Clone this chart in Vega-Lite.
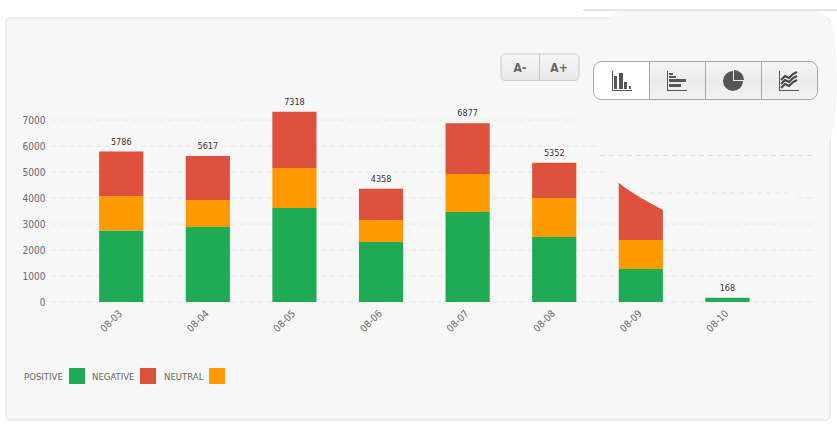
{
"$schema":"https://vega.github.io/schema/vega-lite/v6.json",
"width":760,"height":182,"autosize":"none",
"padding":{"left":52,"top":120,"right":25,"bottom":125},
"background":"#ffffff",
"config":{"view":{"stroke":null},"font":"DejaVu Sans Condensed"},
"datasets":{
"sent":[
{"day":"08-03","kind":"POSITIVE","ord":1,"count":2750},{"day":"08-03","kind":"NEUTRAL","ord":2,"count":1320},{"day":"08-03","kind":"NEGATIVE","ord":3,"count":1716},
{"day":"08-04","kind":"POSITIVE","ord":1,"count":2885},{"day":"08-04","kind":"NEUTRAL","ord":2,"count":1038},{"day":"08-04","kind":"NEGATIVE","ord":3,"count":1694},
{"day":"08-05","kind":"POSITIVE","ord":1,"count":3615},{"day":"08-05","kind":"NEUTRAL","ord":2,"count":1540},{"day":"08-05","kind":"NEGATIVE","ord":3,"count":2163},
{"day":"08-06","kind":"POSITIVE","ord":1,"count":2308},{"day":"08-06","kind":"NEUTRAL","ord":2,"count":846},{"day":"08-06","kind":"NEGATIVE","ord":3,"count":1204},
{"day":"08-07","kind":"POSITIVE","ord":1,"count":3460},{"day":"08-07","kind":"NEUTRAL","ord":2,"count":1463},{"day":"08-07","kind":"NEGATIVE","ord":3,"count":1954},
{"day":"08-08","kind":"POSITIVE","ord":1,"count":2500},{"day":"08-08","kind":"NEUTRAL","ord":2,"count":1500},{"day":"08-08","kind":"NEGATIVE","ord":3,"count":1352},
{"day":"08-09","kind":"POSITIVE","ord":1,"count":1270},{"day":"08-09","kind":"NEUTRAL","ord":2,"count":1115},{"day":"08-09","kind":"NEGATIVE","ord":3,"count":2715},
{"day":"08-10","kind":"POSITIVE","ord":1,"count":168}
],
"grid":[{"v":0},{"v":1000},{"v":2000},{"v":3000},{"v":4000},{"v":5000},{"v":6000},{"v":7000}],
"mask":[
{"x":583,"t":118,"b":121},{"x":585,"t":90,"b":124},{"x":590,"t":60,"b":132},{"x":597,"t":36,"b":146},{"x":608,"t":20,"b":172},{"x":613,"t":14,"b":178},{"x":619,"t":11,"b":183},{"x":630,"t":11,"b":191},{"x":641,"t":11,"b":198},{"x":652,"t":11,"b":204},{"x":663,"t":11,"b":210},{"x":675,"t":11,"b":215},{"x":700,"t":11,"b":217},{"x":760,"t":11,"b":205},{"x":800,"t":11,"b":196},{"x":815,"t":11,"b":165},{"x":830,"t":22,"b":140},{"x":836,"t":50,"b":105},{"x":837,"t":90,"b":92}
],
"icons":[
{"a":612,"b":613,"c":71,"d":91},{"a":612,"b":632,"c":90,"d":91},{"a":614,"b":617,"c":76,"d":89},{"a":619,"b":623,"c":73,"d":89},{"a":624,"b":627,"c":82,"d":89},{"a":629,"b":631,"c":86,"d":89},
{"a":667,"b":668,"c":71,"d":91},{"a":667,"b":687,"c":90,"d":91},{"a":669,"b":673,"c":73,"d":75},{"a":669,"b":676,"c":76,"d":78},{"a":669,"b":686,"c":79,"d":82},{"a":669,"b":681,"c":84,"d":87},
{"a":779,"b":780,"c":71,"d":91},{"a":779,"b":799,"c":90,"d":91}
],
"waves":[
{"s":1,"i":1,"x":781,"y":80},{"s":1,"i":2,"x":785,"y":76},{"s":1,"i":3,"x":789,"y":78},{"s":1,"i":4,"x":793,"y":74},{"s":1,"i":5,"x":797,"y":72},
{"s":2,"i":1,"x":781,"y":84},{"s":2,"i":2,"x":785,"y":80},{"s":2,"i":3,"x":789,"y":82},{"s":2,"i":4,"x":793,"y":78},{"s":2,"i":5,"x":797,"y":76},
{"s":3,"i":1,"x":781,"y":88},{"s":3,"i":2,"x":785,"y":84},{"s":3,"i":3,"x":789,"y":86},{"s":3,"i":4,"x":793,"y":82},{"s":3,"i":5,"x":797,"y":80}
],
"legendRows":[
{"kind":"POSITIVE","x":24,"a":69,"b":85,"y":376.5,"c":368,"d":384},{"kind":"NEGATIVE","x":92,"a":140,"b":156,"y":376.5,"c":368,"d":384},{"kind":"NEUTRAL","x":164,"a":209,"b":225,"y":376.5,"c":368,"d":384}
]
},
"resolve":{"scale":{"x":"independent","y":"independent","color":"independent"},"axis":{"x":"independent","y":"independent"}},
"layer":[
{
"data":{"values":[{"a":6,"b":830,"c":18,"d":420}]},
"mark":{"type":"rect","fill":"#f7f7f7","stroke":"#dcdcdc","strokeWidth":1,"cornerRadius":4},
"encoding":{
"x":{"field":"a","type":"quantitative","scale":{"domain":[52,812],"nice":false,"zero":false},"axis":null},
"x2":{"field":"b"},
"y":{"field":"c","type":"quantitative","scale":{"domain":[302,120],"nice":false,"zero":false},"axis":null},
"y2":{"field":"d"}}
},
{
"layer":[
{"data":{"name":"grid"},
"mark":{"type":"rule","stroke":"#e8e8e8","strokeWidth":1,"strokeDash":[5,4]},
"encoding":{"y":{"field":"v","type":"quantitative","scale":{"domain":[0,7000],"nice":false},
"axis":{"values":[0,1000,2000,3000,4000,5000,6000,7000],"title":null,"grid":false,"domain":false,"ticks":false,"labelPadding":7,"labelFontSize":10,"labelColor":"#666666","labelFont":"DejaVu Sans Condensed","labelOverlap":false,"format":"d","zindex":1}}}},
{"data":{"name":"sent"},
"mark":{"type":"bar"},
"encoding":{
"x":{"field":"day","type":"nominal","scale":{"paddingInner":0.49,"paddingOuter":0.633,"align":0.43},
"axis":{"title":null,"domain":false,"ticks":false,"labelAngle":-45,"labelPadding":6,"labelOffset":-4,"labelFontSize":10,"labelColor":"#666666","labelFont":"DejaVu Sans Condensed","zindex":1}},
"y":{"field":"count","type":"quantitative","aggregate":"sum","stack":"zero",
"axis":{"values":[0,1000,2000,3000,4000,5000,6000,7000],"title":null,"grid":false,"domain":false,"ticks":false,"labelPadding":7,"labelFontSize":10,"labelColor":"#666666","labelFont":"DejaVu Sans Condensed","labelOverlap":false,"format":"d","zindex":1}},
"order":{"field":"ord","type":"ordinal"},
"color":{"field":"kind","type":"nominal","legend":null,"scale":{"domain":["POSITIVE","NEGATIVE","NEUTRAL"],"range":["#1faa54","#dd523c","#ff9a00"]}}}},
{"data":{"name":"sent"},
"transform":[{"aggregate":[{"op":"sum","field":"count","as":"total"}],"groupby":["day"]}],
"mark":{"type":"text","dy":-10,"fontSize":9,"fill":"#333333","font":"DejaVu Sans Condensed"},
"encoding":{
"x":{"field":"day","type":"nominal",
"axis":{"title":null,"domain":false,"ticks":false,"labelAngle":-45,"labelPadding":6,"labelOffset":-4,"labelFontSize":10,"labelColor":"#666666","labelFont":"DejaVu Sans Condensed","zindex":1}},
"y":{"field":"total","type":"quantitative",
"axis":{"values":[0,1000,2000,3000,4000,5000,6000,7000],"title":null,"grid":false,"domain":false,"ticks":false,"labelPadding":7,"labelFontSize":10,"labelColor":"#666666","labelFont":"DejaVu Sans Condensed","labelOverlap":false,"format":"d","zindex":1}},
"text":{"field":"total","type":"quantitative","format":"d"}}}
]
},
{
"encoding":{
"x":{"field":"x","type":"quantitative","scale":{"domain":[52,812],"nice":false,"zero":false},"axis":null},
"y":{"field":"y","type":"quantitative","scale":{"domain":[302,120],"nice":false,"zero":false},"axis":null}},
"layer":[
{"data":{"name":"mask"},"mark":{"type":"area","fill":"#f7f7f7","interpolate":"monotone"},
"encoding":{"x":{"field":"x","type":"quantitative"},"y":{"field":"t","type":"quantitative","stack":null},"y2":{"field":"b"}}},
{"data":{"values":[{"x":583,"x2":837,"y":10}]},"mark":{"type":"rule","stroke":"#cccccc"},"encoding":{"x2":{"field":"x2"}}},
{"data":{"values":[{"x":600,"x2":815,"y":155.5}]},"mark":{"type":"rule","stroke":"#dcdcdc","strokeDash":[5,4]},"encoding":{"x2":{"field":"x2"}}},
{"data":{"values":[{"x":640,"x2":788,"y":193}]},"mark":{"type":"rule","stroke":"#e6e6e6","strokeDash":[5,4]},"encoding":{"x2":{"field":"x2"}}},
{"data":{"values":[{"x":501,"x2":579,"y":54,"y2":80.5}]},"mark":{"type":"rect","cornerRadius":4,"stroke":"#cccccc","fill":{"x1":0,"y1":0,"x2":0,"y2":1,"gradient":"linear","stops":[{"offset":0,"color":"#f6f6f6"},{"offset":1,"color":"#e9e9e9"}]}},"encoding":{"x2":{"field":"x2"},"y2":{"field":"y2"}}},
{"data":{"values":[{"x":539.5,"y":54,"y2":80.5}]},"mark":{"type":"rule","stroke":"#c4c4c4"},"encoding":{"y2":{"field":"y2"}}},
{"data":{"values":[{"x":520,"y":68,"t":"A-"},{"x":559,"y":68,"t":"A+"}]},"mark":{"type":"text","fontSize":12,"fontWeight":"bold","fill":"#666666","font":"DejaVu Sans Condensed"},"encoding":{"text":{"field":"t"}}},
{"data":{"values":[{"x":593.5,"x2":817.5,"y":61.5,"y2":99.5}]},"mark":{"type":"rect","cornerRadius":8,"fill":{"x1":0,"y1":0,"x2":0,"y2":1,"gradient":"linear","stops":[{"offset":0,"color":"#f5f5f5"},{"offset":0.5,"color":"#ebebeb"},{"offset":1,"color":"#f2f2f2"}]}},"encoding":{"x2":{"field":"x2"},"y2":{"field":"y2"}}},
{"data":{"values":[{"x":593.5,"x2":649,"y":61.5,"y2":99.5}]},"mark":{"type":"rect","fill":"#ffffff","cornerRadiusTopLeft":8,"cornerRadiusBottomLeft":8},"encoding":{"x2":{"field":"x2"},"y2":{"field":"y2"}}},
{"data":{"values":[{"x":593.5,"x2":817.5,"y":61.5,"y2":99.5}]},"mark":{"type":"rect","cornerRadius":8,"fillOpacity":0,"stroke":"#a8a8a8"},"encoding":{"x2":{"field":"x2"},"y2":{"field":"y2"}}},
{"data":{"values":[{"x":649.5,"y":61.5,"y2":99.5},{"x":705.5,"y":61.5,"y2":99.5},{"x":761.5,"y":61.5,"y2":99.5}]},"mark":{"type":"rule","stroke":"#a8a8a8"},"encoding":{"y2":{"field":"y2"}}},
{"data":{"name":"icons"},"mark":{"type":"rect","fill":"#555555"},"encoding":{"x":{"field":"a","type":"quantitative"},"x2":{"field":"b"},"y":{"field":"c","type":"quantitative"},"y2":{"field":"d"}}},
{"data":{"values":[{"x":733,"y":81}]},"mark":{"type":"arc","fill":"#555555","outerRadius":10,"theta":1.57,"theta2":6.283}},
{"data":{"values":[{"x":734,"y":80}]},"mark":{"type":"arc","fill":"#555555","outerRadius":10,"theta":0,"theta2":1.57}},
{"data":{"name":"waves"},"mark":{"type":"line","stroke":"#444444","strokeWidth":2},"encoding":{"detail":{"field":"s"},"order":{"field":"i"}}},
{"data":{"name":"legendRows"},"mark":{"type":"text","align":"left","fontSize":9.5,"fill":"#666666","font":"DejaVu Sans Condensed"},"encoding":{"text":{"field":"kind"}}},
{"data":{"name":"legendRows"},"transform":[{"filter":"datum.kind=='POSITIVE'"}],"mark":{"type":"rect","fill":"#1faa54"},"encoding":{"x":{"field":"a","type":"quantitative"},"x2":{"field":"b"},"y":{"field":"c","type":"quantitative"},"y2":{"field":"d"}}},
{"data":{"name":"legendRows"},"transform":[{"filter":"datum.kind=='NEGATIVE'"}],"mark":{"type":"rect","fill":"#dd523c"},"encoding":{"x":{"field":"a","type":"quantitative"},"x2":{"field":"b"},"y":{"field":"c","type":"quantitative"},"y2":{"field":"d"}}},
{"data":{"name":"legendRows"},"transform":[{"filter":"datum.kind=='NEUTRAL'"}],"mark":{"type":"rect","fill":"#ff9a00"},"encoding":{"x":{"field":"a","type":"quantitative"},"x2":{"field":"b"},"y":{"field":"c","type":"quantitative"},"y2":{"field":"d"}}}
]
}
]
}
